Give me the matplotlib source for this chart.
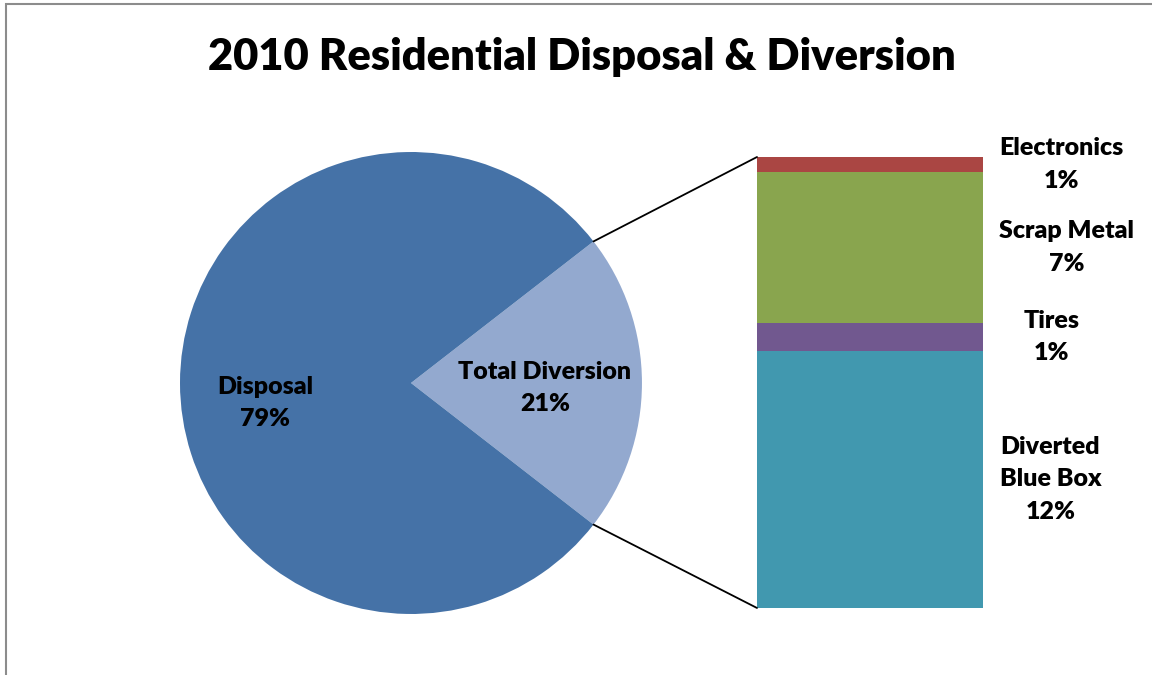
import matplotlib
matplotlib.use("Agg")
import matplotlib.pyplot as plt
from matplotlib.patches import ConnectionPatch, Rectangle
import numpy as np

plt.rcParams['font.family'] = ['Lato', 'DejaVu Sans']

# pie data
pie_labels = ['Total Diversion', 'Disposal']
pie_values = [21, 79]
pie_colors = ['#93A9CF', '#4572A7']

# breakdown of the diversion slice (bottom to top)
bar_labels = ['Diverted\nBlue Box', 'Tires', 'Scrap Metal', 'Electronics']
bar_values = [12.0, 1.3, 7.05, 0.7]
bar_colors = ['#4198AF', '#71588F', '#89A54E', '#AA4643']
label_shift = [12, 29, 11.5, 11.5]  # points right of the bar

W = 'heavy'
LS = 1.56

fig = plt.figure(figsize=(11.52, 6.75), dpi=100)
fig.patch.set_facecolor('white')

fig.text(0.5055, 1 - 57 / 675, '2010 Residential Disposal & Diversion',
         ha='center', va='center', fontsize=31.3, fontweight=W)

# pie
ax_pie = fig.add_axes([0.15625, 0.0904, 0.4010, 0.6844])
span = pie_values[0] / sum(pie_values) * 360
wedges, _ = ax_pie.pie(pie_values, colors=pie_colors, startangle=-span / 2,
                       radius=1, counterclock=True)
ax_pie.set_xlim(-1, 1)
ax_pie.set_ylim(-1, 1)
ax_pie.set_aspect('auto')
ax_pie.axis('off')

ax_pie.text(0.58, -0.02, '%s\n%d%%' % (pie_labels[0], pie_values[0]),
            ha='center', va='center', fontsize=18, fontweight=W,
            linespacing=LS)
ax_pie.text(-0.63, -0.085, '%s\n%d%%' % (pie_labels[1], pie_values[1]),
            ha='center', va='center', fontsize=18, fontweight=W,
            linespacing=LS)

# stacked bar
ax_bar = fig.add_axes([0.6571, 0.0993, 0.1962, 0.6681])
total = sum(bar_values)
bottom = 0
for lab, val, col, dx in zip(bar_labels, bar_values, bar_colors, label_shift):
    ax_bar.bar(0, val, width=1, bottom=bottom, color=col, linewidth=0)
    ax_bar.annotate('%s\n%d%%' % (lab, round(val)), xy=(0.5, bottom + val / 2),
                    xytext=(dx, 0), textcoords='offset points',
                    ha='left', va='center', multialignment='center',
                    fontsize=18, fontweight=W, linespacing=LS,
                    annotation_clip=False)
    bottom += val
ax_bar.set_xlim(-0.5, 0.5)
ax_bar.set_ylim(0, total)
ax_bar.axis('off')

# connector lines
theta = np.radians(span / 2)
for sgn, ybar in [(1, total), (-1, 0)]:
    con = ConnectionPatch(xyA=(np.cos(theta), sgn * np.sin(theta)), coordsA=ax_pie.transData,
                          xyB=(-0.5, ybar), coordsB=ax_bar.transData,
                          color='black', linewidth=1.3)
    fig.add_artist(con)

# chart border
fig.add_artist(Rectangle((6 / 1152, -0.1), 2, 1 - 4 / 675 + 0.1, transform=fig.transFigure,
                         fill=False, edgecolor='#8c8c8c', linewidth=1.5))

fig.savefig('out.png', dpi=100)
